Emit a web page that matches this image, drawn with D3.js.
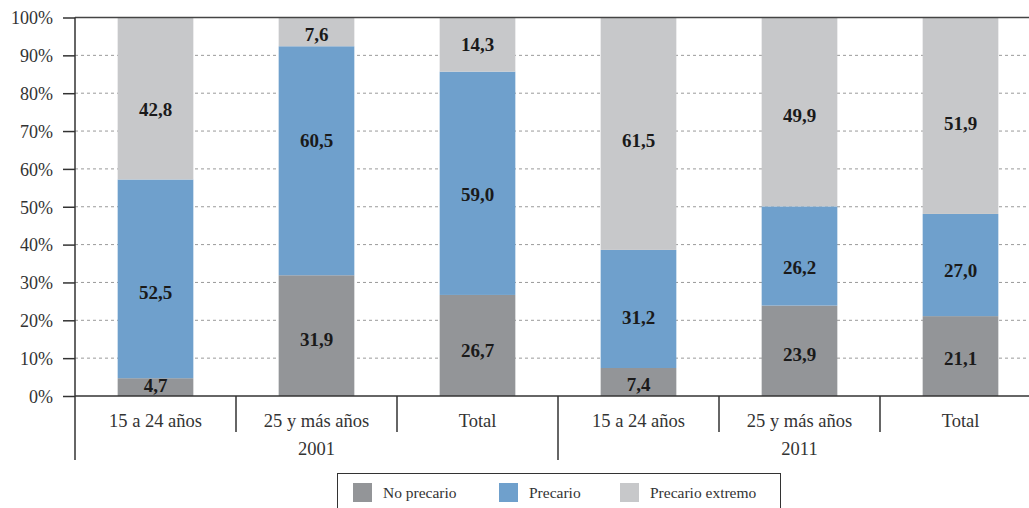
<!DOCTYPE html>
<html><head><meta charset="utf-8">
<script src="https://cdn.jsdelivr.net/npm/d3@7"></script>
<style>body{margin:0;background:#fff}svg{display:block}text{font-family:"Liberation Serif"}</style>
</head><body>
<svg id="c" width="1029" height="508"></svg>
<script>
const categories = ["15 a 24 años","25 y más años","Total","15 a 24 años","25 y más años","Total"];
const years = ["2001","2011"];
const seriesNames = ["No precario","Precario","Precario extremo"];
const noPrecario = [4.7,31.9,26.7,7.4,23.9,21.1];
const precario = [52.5,60.5,59.0,31.2,26.2,27.0];
const precarioExtremo = [42.8,7.6,14.3,61.5,49.9,51.9];
const yTicks = [0,10,20,30,40,50,60,70,80,90,100];
// hand-placed label nudges (px) as in the original, per series
const nudgeNo = [-1,4,6,3,4,3];
const nudgePre = [14,-20,12,9,12,6];
const nudgeExt = [12,3,0,7,4,8];

const colors = ["#939598","#6fa0cc","#c7c8ca"];
const font = "Liberation Serif";
const svg = d3.select("#c");
const mLeft = 75, mTop = 17.5, base = 396, band = 161;
const x = d3.scaleBand().domain(d3.range(6)).range([mLeft, mLeft + band*6]).paddingInner(0.53).paddingOuter(0.265);
const y = d3.scaleLinear().domain([0,100]).range([base, mTop]);

// grid
svg.append("g").selectAll("line").data(yTicks.filter(t=>t>0&&t<100)).join("line")
  .attr("x1", mLeft).attr("x2", 1029).attr("y1", d=>y(d)).attr("y2", d=>y(d))
  .attr("stroke","#9a9a9a").attr("stroke-dasharray","3,3").attr("stroke-width",1);

// bars
const data = categories.map((c,i)=>({i, v:[noPrecario[i],precario[i],precarioExtremo[i]], n:[nudgeNo[i],nudgePre[i],nudgeExt[i]]}));
data.forEach(d=>{
  let acc = 0;
  d.v.forEach((v,k)=>{
    const y0 = acc, y1 = Math.min(100, acc+v);
    svg.append("rect").attr("x", x(d.i)).attr("width", x.bandwidth())
      .attr("y", y(y1)).attr("height", y(y0)-y(y1)).attr("fill", colors[k]);
    acc += v;
  });
});
data.forEach(d=>{
  let acc = 0;
  d.v.forEach((v,k)=>{
    const y0 = acc, y1 = Math.min(100, acc+v);
    svg.append("text").attr("x", x(d.i)+x.bandwidth()/2).attr("y", y((y0+y1)/2)+6+d.n[k])
      .attr("text-anchor","middle").style("font-family",font).attr("font-weight","bold")
      .attr("font-size",19).attr("fill","#1a1a1a").text(v.toFixed(1).replace(".",","));
    acc += v;
  });
});

// top line and baseline
svg.append("line").attr("x1",mLeft).attr("x2",1029).attr("y1",y(100)).attr("y2",y(100)).attr("stroke","#444").attr("stroke-width",1.5);
svg.append("line").attr("x1",mLeft).attr("x2",1029).attr("y1",base).attr("y2",base).attr("stroke","#333").attr("stroke-width",1.5);

// y axis
const yAxis = d3.axisLeft(y).tickValues(yTicks).tickSize(12).tickFormat(d=>d+"%");
const ga = svg.append("g").attr("transform",`translate(${mLeft},0)`).call(yAxis);
ga.select(".domain").remove();
ga.selectAll(".tick line").attr("stroke","#333").attr("stroke-width",1.5);
ga.selectAll(".tick text").style("font-family",font).attr("font-size",18).attr("fill","#333").attr("x",-22).attr("dy","0.35em");
svg.append("line").attr("x1",mLeft).attr("x2",mLeft).attr("y1",mTop).attr("y2",460).attr("stroke","#333").attr("stroke-width",1.5);

// category labels
svg.append("g").selectAll("text").data(categories).join("text")
  .attr("x",(d,i)=>x(i)+x.bandwidth()/2).attr("y",427).attr("text-anchor","middle")
  .style("font-family",font).attr("font-size",18.5).attr("fill","#333").text(d=>d);
// separators
d3.range(1,6).forEach(i=>{
  const sx = mLeft + band*i;
  svg.append("line").attr("x1",sx).attr("x2",sx).attr("y1",base).attr("y2", i===3?460:432).attr("stroke","#333").attr("stroke-width",1.5);
});
// year labels
svg.append("g").selectAll("text").data(years).join("text")
  .attr("x",(d,i)=>mLeft + band*3*i + band*1.5).attr("y",455).attr("text-anchor","middle")
  .style("font-family",font).attr("font-size",18.5).attr("fill","#333").text(d=>d);

// legend
const lg = svg.append("g");
lg.append("rect").attr("x",337.5).attr("y",473.5).attr("width",443).attr("height",40).attr("fill","none").attr("stroke","#333").attr("stroke-width",1);
const lx = [353,499,620];
seriesNames.forEach((n,k)=>{
  lg.append("rect").attr("x",lx[k]).attr("y",483).attr("width",19).attr("height",19).attr("fill",colors[k]);
  lg.append("text").attr("x",lx[k]+30).attr("y",498).style("font-family",font).attr("font-size",15.5).attr("fill","#333").text(n);
});
</script>
</body></html>
